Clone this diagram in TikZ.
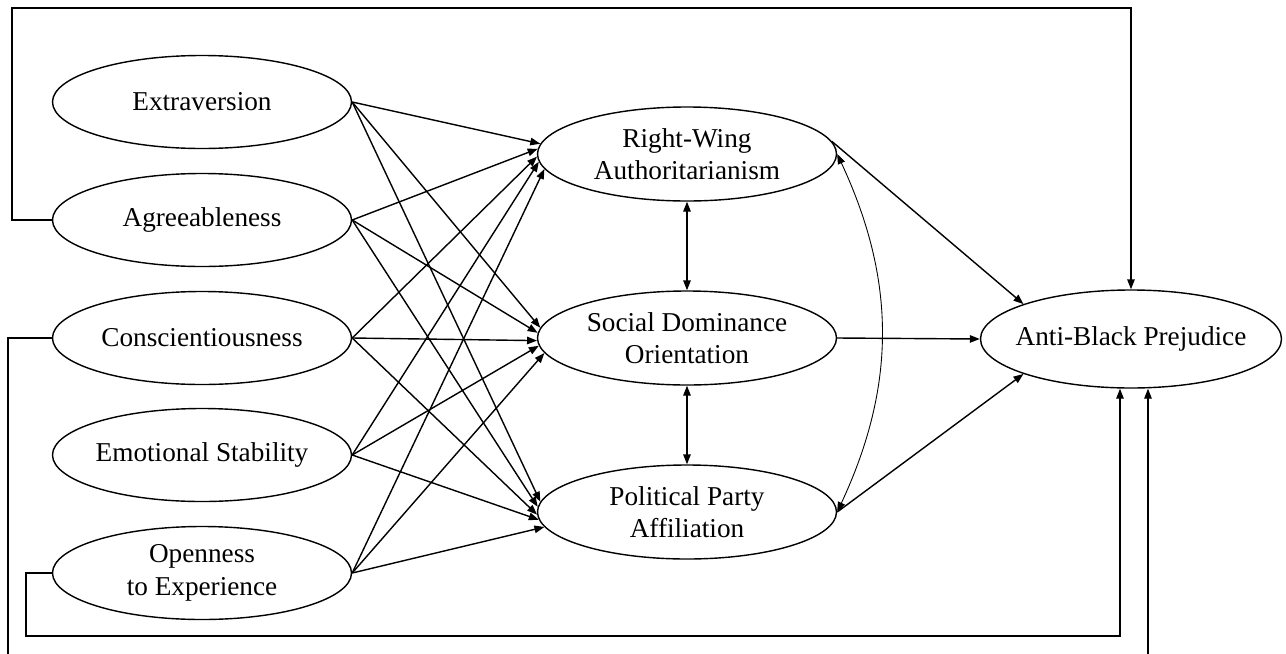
\documentclass[tikz,border=0pt]{standalone}
\usepackage{fontspec}
\setmainfont{Liberation Serif}
\usetikzlibrary{arrows.meta, positioning, calc, shapes.geometric}

\begin{document}
\begin{tikzpicture}[
    x=0.2mm, y=-0.2mm, % 1单位=1像素,y向下
    every node/.style={font=\fontsize{15.5pt}{18.5pt}\selectfont}, % 统一字体
    latent/.style={draw, ellipse, line width=0.8pt, inner xsep=-6pt, inner ysep=0pt,
        align=center, minimum width=59.8mm, minimum height=18.6mm}, % 潜变量椭圆
    reg/.style={line width=0.8pt, -{Triangle[length=2mm, width=1.5mm]}}, % 单向路径
    dbl/.style={line width=0.8pt, {Triangle[length=2mm, width=1.5mm]}-{Triangle[length=2mm, width=1.5mm]}}, % 双向
    cov/.style={line width=0.5pt, {Triangle[length=2mm, width=1.5mm]}-{Triangle[length=2mm, width=1.5mm]}} % 协方差弧线
]
    \clip (0,0) rectangle (1286,653);

    % 1. 左侧人格五因素
    \node[latent] (ext) at (202,102) {Extraversion};
    \node[latent] (agr) at (202,220) {Agreeableness};
    \node[latent] (con) at (202,338) {Conscientiousness};
    \node[latent] (emo) at (202,455) {Emotional Stability};
    \node[latent] (ope) at (202,573) {Openness\\to Experience};

    % 2. 中间三个中介变量
    \node[latent, minimum height=18.8mm] (rwa) at (687,154) {Right-Wing\\Authoritarianism};
    \node[latent, minimum height=18.8mm] (sdo) at (687,338) {Social Dominance\\Orientation};
    \node[latent, minimum height=18.8mm] (ppa) at (687,512) {Political Party\\Affiliation};

    % 3. 结果变量
    \node[latent, minimum width=60.2mm, minimum height=19.6mm] (abp) at (1131,339) {Anti-Black Prejudice};

    % 4. 人格 -> 中介(每个到每个)
    \foreach \s [count=\i] in {ext,agr,con,emo,ope} {
        \pgfmathsetmacro{\ang}{173.5+2.5*\i}
        \foreach \t in {rwa,sdo,ppa}
            \draw[reg] (\s.east) -- (\t.\ang);
    }

    % 5. 中介之间的相关
    \draw[dbl] (rwa.south) -- (sdo.north);
    \draw[dbl] (sdo.south) -- (ppa.north);
    \draw[cov] (rwa.east) to[bend left=25] (ppa.east);

    % 6. 中介 -> 结果
    \draw[reg] (rwa.5) -- (abp.162);
    \draw[reg] (sdo.east) -- (abp.west);
    \draw[reg] (ppa.east) -- (abp.198);

    % 7. 直接路径(绕外框)
    \draw[reg] (agr.west) -| (12,8) -| (abp.north);
    \draw[reg] (con.west) -| (8,680) -| ($(abp.south)+(17,0)$);
    \draw[reg] (ope.west) -| (26,636) -| ($(abp.south)+(-11,0)$);

\end{tikzpicture}
\end{document}
